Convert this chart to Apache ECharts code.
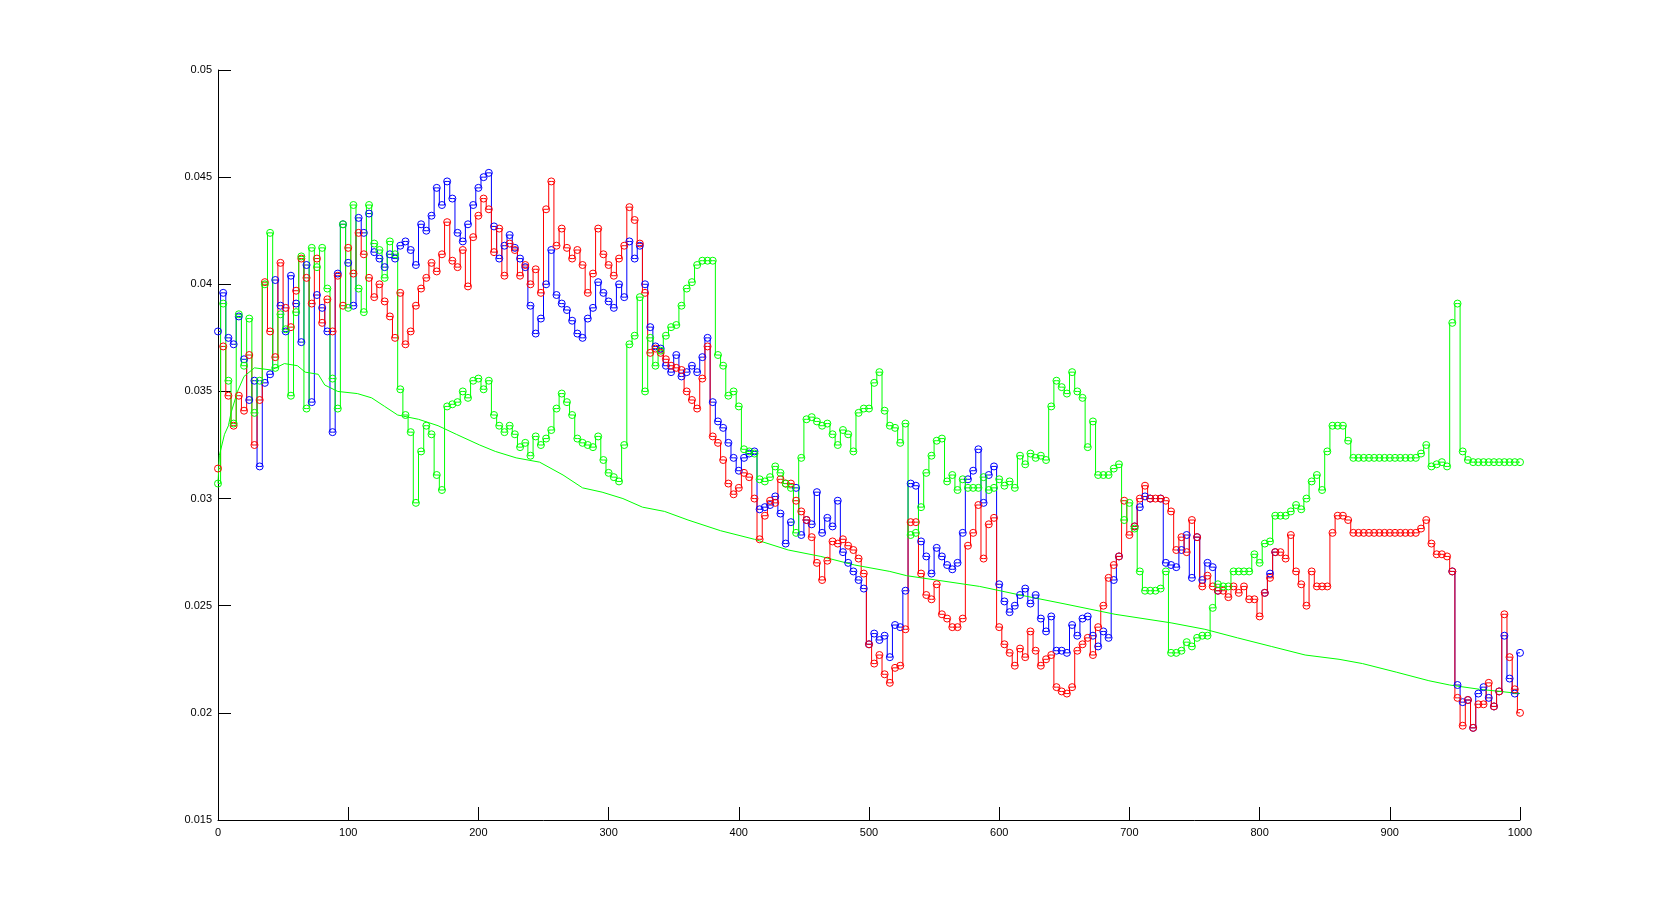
<!DOCTYPE html>
<html>
<head>
<meta charset="utf-8">
<script src="https://cdn.jsdelivr.net/npm/echarts@6/dist/echarts.min.js"></script>
<style>
html,body{margin:0;padding:0;background:#fff;}
#chart{width:1680px;height:920px;}
</style>
</head>
<body>
<div id="chart"></div>
<script>
// sample index step (x = index * step)
const step = 4;

const blueValues = [
0.0378,0.0396,0.0375,0.0372,0.0385,0.0365,0.0346,0.0355,0.0315,0.0354,
0.0358,0.0402,0.0390,0.0378,0.0404,0.0391,0.0373,0.0409,0.0345,0.0395,
0.0389,0.0378,0.0331,0.0405,0.0428,0.0410,0.0390,0.0431,0.0424,0.0433,
0.0415,0.0412,0.0408,0.0414,0.0412,0.0418,0.0420,0.0416,0.0409,0.0428,
0.0425,0.0432,0.0445,0.0437,0.0448,0.0440,0.0424,0.0420,0.0428,0.0437,
0.0445,0.0450,0.0452,0.0427,0.0412,0.0418,0.0423,0.0417,0.0412,0.0408,
0.0390,0.0377,0.0384,0.0400,0.0416,0.0395,0.0391,0.0388,0.0383,0.0377,
0.0375,0.0384,0.0389,0.0401,0.0396,0.0392,0.0389,0.0400,0.0394,0.0420,
0.0412,0.0418,0.0400,0.0380,0.0371,0.0370,0.0362,0.0359,0.0367,0.0357,
0.0359,0.0362,0.0359,0.0366,0.0375,0.0345,0.0336,0.0333,0.0326,0.0319,
0.0313,0.0319,0.0321,0.0322,0.0295,0.0296,0.0297,0.0301,0.0293,0.0279,
0.0289,0.0305,0.0283,0.0290,0.0288,0.0303,0.0284,0.0291,0.0287,0.0299,
0.0275,0.0270,0.0266,0.0262,0.0258,0.0232,0.0237,0.0234,0.0236,0.0226,
0.0241,0.0240,0.0257,0.0307,0.0306,0.0280,0.0273,0.0265,0.0277,0.0273,
0.0269,0.0267,0.0270,0.0284,0.0309,0.0313,0.0323,0.0298,0.0311,0.0315,
0.0260,0.0252,0.0247,0.0250,0.0255,0.0258,0.0251,0.0255,0.0244,0.0238,
0.0245,0.0229,0.0229,0.0228,0.0241,0.0236,0.0244,0.0245,0.0236,0.0231,
0.0238,0.0235,0.0262,0.0273,0.0299,0.0283,0.0287,0.0296,0.0301,0.0300,
0.0300,0.0300,0.0270,0.0269,0.0268,0.0276,0.0283,0.0263,0.0282,0.0262,
0.0270,0.0268,0.0257,0.0257,0.0254,0.0259,0.0256,0.0259,0.0253,0.0253,
0.0245,0.0256,0.0265,0.0275,0.0275,0.0272,0.0283,0.0266,0.0260,0.0250,
0.0266,0.0259,0.0259,0.0259,0.0284,0.0292,0.0292,0.0290,0.0284,0.0284,
0.0284,0.0284,0.0284,0.0284,0.0284,0.0284,0.0284,0.0284,0.0284,0.0284,
0.0284,0.0286,0.0290,0.0279,0.0274,0.0274,0.0273,0.0266,0.0213,0.0205,
0.0206,0.0193,0.0209,0.0212,0.0207,0.0203,0.0210,0.0236,0.0216,0.0209,
0.0228
];

const redValues = [
0.0314,0.0371,0.0348,0.0334,0.0348,0.0341,0.0367,0.0325,0.0346,0.0401,
0.0378,0.0366,0.0410,0.0389,0.0380,0.0397,0.0412,0.0403,0.0391,0.0412,
0.0382,0.0393,0.0378,0.0404,0.0390,0.0417,0.0405,0.0424,0.0414,0.0403,
0.0394,0.0400,0.0392,0.0385,0.0375,0.0396,0.0372,0.0378,0.0390,0.0398,
0.0403,0.0410,0.0406,0.0414,0.0429,0.0411,0.0408,0.0416,0.0399,0.0422,
0.0432,0.0440,0.0435,0.0415,0.0426,0.0404,0.0419,0.0416,0.0404,0.0409,
0.0400,0.0407,0.0396,0.0435,0.0448,0.0418,0.0426,0.0417,0.0412,0.0416,
0.0409,0.0396,0.0405,0.0426,0.0414,0.0409,0.0404,0.0412,0.0418,0.0436,
0.0430,0.0419,0.0396,0.0368,0.0370,0.0368,0.0365,0.0362,0.0361,0.0360,
0.0350,0.0346,0.0342,0.0356,0.0371,0.0329,0.0326,0.0318,0.0307,0.0302,
0.0305,0.0312,0.0310,0.0300,0.0281,0.0292,0.0299,0.0298,0.0309,0.0307,
0.0307,0.0299,0.0294,0.0290,0.0282,0.0270,0.0262,0.0271,0.0280,0.0279,
0.0281,0.0278,0.0276,0.0272,0.0265,0.0232,0.0223,0.0227,0.0218,0.0214,
0.0221,0.0222,0.0239,0.0289,0.0289,0.0265,0.0255,0.0253,0.0260,0.0246,
0.0244,0.0240,0.0240,0.0244,0.0278,0.0284,0.0297,0.0272,0.0288,0.0291,
0.0240,0.0232,0.0228,0.0222,0.0230,0.0226,0.0238,0.0229,0.0222,0.0225,
0.0227,0.0212,0.0210,0.0209,0.0212,0.0229,0.0232,0.0235,0.0227,0.0240,
0.0250,0.0263,0.0269,0.0273,0.0299,0.0283,0.0287,0.0300,0.0306,0.0300,
0.0300,0.0300,0.0299,0.0294,0.0276,0.0282,0.0275,0.0290,0.0282,0.0259,
0.0264,0.0259,0.0257,0.0257,0.0254,0.0259,0.0256,0.0259,0.0253,0.0253,
0.0245,0.0256,0.0263,0.0275,0.0275,0.0272,0.0283,0.0266,0.0260,0.0250,
0.0266,0.0259,0.0259,0.0259,0.0284,0.0292,0.0292,0.0290,0.0284,0.0284,
0.0284,0.0284,0.0284,0.0284,0.0284,0.0284,0.0284,0.0284,0.0284,0.0284,
0.0284,0.0286,0.0290,0.0279,0.0274,0.0274,0.0273,0.0266,0.0207,0.0194,
0.0206,0.0193,0.0204,0.0204,0.0214,0.0203,0.0210,0.0246,0.0226,0.0211,
0.0200
];

const greenValues = [
0.0307,0.0391,0.0355,0.0335,0.0386,0.0362,0.0384,0.0340,0.0355,0.0400,
0.0424,0.0361,0.0386,0.0379,0.0348,0.0387,0.0413,0.0342,0.0417,0.0408,
0.0417,0.0398,0.0356,0.0342,0.0428,0.0389,0.0437,0.0398,0.0387,0.0437,
0.0419,0.0416,0.0403,0.0420,0.0414,0.0351,0.0339,0.0331,0.0298,0.0322,
0.0334,0.0330,0.0311,0.0304,0.0343,0.0344,0.0345,0.0350,0.0347,0.0355,
0.0356,0.0351,0.0355,0.0339,0.0334,0.0331,0.0334,0.0330,0.0324,0.0326,
0.0320,0.0329,0.0325,0.0328,0.0332,0.0342,0.0349,0.0345,0.0339,0.0328,
0.0326,0.0325,0.0324,0.0329,0.0318,0.0312,0.0310,0.0308,0.0325,0.0372,
0.0376,0.0394,0.0350,0.0375,0.0362,0.0369,0.0376,0.0380,0.0381,0.0390,
0.0398,0.0401,0.0409,0.0411,0.0411,0.0411,0.0367,0.0362,0.0348,0.0350,
0.0343,0.0323,0.0322,0.0321,0.0309,0.0308,0.0310,0.0315,0.0312,0.0307,
0.0305,0.0284,0.0319,0.0337,0.0338,0.0336,0.0334,0.0335,0.0330,0.0325,
0.0332,0.0330,0.0322,0.0340,0.0342,0.0342,0.0354,0.0359,0.0341,0.0334,
0.0333,0.0326,0.0335,0.0283,0.0284,0.0296,0.0312,0.0320,0.0327,0.0328,
0.0308,0.0311,0.0304,0.0309,0.0305,0.0305,0.0305,0.0310,0.0304,0.0305,
0.0309,0.0306,0.0308,0.0305,0.0320,0.0316,0.0321,0.0319,0.0320,0.0318,
0.0343,0.0355,0.0352,0.0349,0.0359,0.0350,0.0347,0.0324,0.0336,0.0311,
0.0311,0.0311,0.0314,0.0316,0.0290,0.0298,0.0286,0.0266,0.0257,0.0257,
0.0257,0.0258,0.0266,0.0228,0.0228,0.0229,0.0233,0.0231,0.0235,0.0236,
0.0236,0.0249,0.0260,0.0259,0.0259,0.0266,0.0266,0.0266,0.0266,0.0274,
0.0270,0.0279,0.0280,0.0292,0.0292,0.0292,0.0294,0.0297,0.0295,0.0300,
0.0308,0.0311,0.0304,0.0322,0.0334,0.0334,0.0334,0.0327,0.0319,0.0319,
0.0319,0.0319,0.0319,0.0319,0.0319,0.0319,0.0319,0.0319,0.0319,0.0319,
0.0319,0.0321,0.0325,0.0315,0.0316,0.0317,0.0315,0.0382,0.0391,0.0322,
0.0318,0.0317,0.0317,0.0317,0.0317,0.0317,0.0317,0.0317,0.0317,0.0317,
0.0317
];

const trendX = [0,1,5,8,10,15,20,28,41,51,61,67,77,82,92,107,118,128,138,154,169,183,201,213,229,247,265,280,295,311,326,343,361,386,412,438,463,489,516,529,585,616,649,689,732,758,783,809,835,861,879,905,930,946,969,1000];
const trendY = [0.0307,0.0320,0.0330,0.0334,0.0340,0.0350,0.0357,0.0361,0.0360,0.0363,0.0362,0.0359,0.0358,0.0353,0.0350,0.0349,0.0347,0.0343,0.0339,0.0337,0.0334,0.0330,0.0325,0.0322,0.0319,0.0317,0.0311,0.0305,0.0303,0.0300,0.0296,0.0294,0.0290,0.0285,0.0281,0.0276,0.0273,0.0269,0.0266,0.0264,0.0259,0.0255,0.0251,0.0246,0.0242,0.0239,0.0235,0.0231,0.0227,0.0225,0.0223,0.0219,0.0215,0.0213,0.0211,0.0209];

const xTicks = {min: 0, max: 1000, interval: 100};
const yTicks = {min: 0.015, max: 0.05, interval: 0.005};

function pairs(vals){ return vals.map((v,i)=>[i*step, v]); }

// blue is hidden under red wherever the two coincide; only draw it where it shows
function visibleBlue(b, r){
  return b.map((v,i)=>{
    const same = (j)=> j<0 || j>=b.length || b[j]===r[j];
    return (same(i-1) && same(i) && same(i+1)) ? null : v;
  });
}

const chart = echarts.init(document.getElementById('chart'), null, {renderer:'canvas'});
function markerSeries(name, vals, color){
  return {
    name, type:'line', data: vals.map((v,i)=>[i*step, v]),
    step:'middle', connectNulls:false,
    symbol:'circle', symbolSize:7, showSymbol:true, showAllSymbol:true,
    lineStyle:{color, width:1},
    itemStyle:{color:'rgba(0,0,0,0)', borderColor:color, borderWidth:1},
    emphasis:{disabled:true}, animation:false
  };
}
const axisText = {color:'#000', fontFamily:'Liberation Sans, Arial, sans-serif', fontSize:11};
chart.setOption({
  backgroundColor:'#fff',
  animation:false,
  grid:{left:218, right:160, top:70, bottom:100, containLabel:false},
  xAxis:{type:'value', min:xTicks.min, max:xTicks.max, interval:xTicks.interval,
    axisLine:{lineStyle:{color:'#000', width:1}},
    axisTick:{inside:true, length:13, lineStyle:{color:'#000'}},
    axisLabel:Object.assign({margin:7, formatter:(v)=>String(v)}, axisText),
    splitLine:{show:false}},
  yAxis:{type:'value', min:yTicks.min, max:yTicks.max, interval:yTicks.interval,
    axisLine:{show:true, lineStyle:{color:'#000', width:1}},
    axisTick:{show:true, inside:true, length:13, lineStyle:{color:'#000'}},
    axisLabel:Object.assign({margin:6, formatter:(v)=>String(Math.round(v*1000)/1000)}, axisText),
    splitLine:{show:false}},
  series:[
    markerSeries('blue', visibleBlue(blueValues, redValues), '#0000ff'),
    markerSeries('red', redValues, '#ff0000'),
    markerSeries('green', greenValues, '#00ff00'),
    {name:'trend', type:'line', data: trendX.map((x,i)=>[x, trendY[i]]),
     showSymbol:false, symbol:'none', lineStyle:{color:'#00ff00', width:1}, animation:false}
  ]
});
</script>
</body>
</html>
